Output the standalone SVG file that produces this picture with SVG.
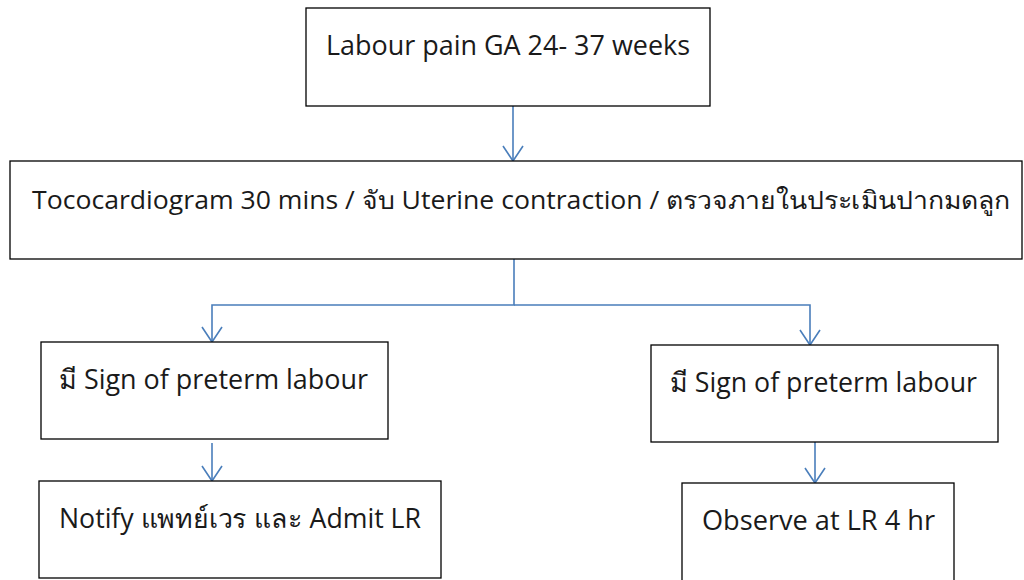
<svg xmlns="http://www.w3.org/2000/svg" width="1024" height="580" viewBox="0 0 1024 580">
<defs>
<style>
.box{fill:#ffffff;stroke:#000000;stroke-width:1.3}
.lbl{font-family:"Open Sans","Noto Sans","DejaVu Sans",sans-serif;font-size:27px;fill:#1a1a1a}
.wide{font-size:25px}
.conn{fill:none;stroke:#4a7ebb;stroke-width:1.6}
</style>
<marker id="arr" viewBox="0 0 20 22" refX="18" refY="11" markerWidth="20" markerHeight="22" markerUnits="userSpaceOnUse" orient="auto">
<path d="M3,1 L18,11 L3,21" fill="none" stroke="#4a7ebb" stroke-width="1.6"/>
</marker>
</defs>
<rect width="1024" height="580" fill="#ffffff"/>
<g id="connectors">
<path class="conn" d="M513,106 V161" marker-end="url(#arr)"/>
<path class="conn" d="M514,259 V305 H212 V342" marker-end="url(#arr)"/>
<path class="conn" d="M514,305 H810 V345" marker-end="url(#arr)"/>
<path class="conn" d="M212,443 V481" marker-end="url(#arr)"/>
<path class="conn" d="M815,442 V483" marker-end="url(#arr)"/>
</g>
<g id="n1">
<rect class="box" x="306" y="8" width="404" height="98"/>
<text class="lbl" x="326" y="55" textLength="364" lengthAdjust="spacingAndGlyphs">Labour pain GA 24- 37 weeks</text>
</g>
<g id="n2">
<rect class="box" x="10" y="161" width="1012" height="98"/>
<text class="lbl wide" x="32" y="209" textLength="978" lengthAdjust="spacingAndGlyphs">Tococardiogram 30 mins / จับ Uterine contraction / ตรวจภายในประเมินปากมดลูก</text>
</g>
<g id="n3">
<rect class="box" x="41" y="342" width="347" height="97"/>
<text class="lbl" x="59" y="389" textLength="309" lengthAdjust="spacingAndGlyphs">มี Sign of preterm labour</text>
</g>
<g id="n4">
<rect class="box" x="651" y="345" width="347" height="97"/>
<text class="lbl" x="670" y="392" textLength="307" lengthAdjust="spacingAndGlyphs">มี Sign of preterm labour</text>
</g>
<g id="n5">
<rect class="box" x="39" y="481" width="402" height="97"/>
<text class="lbl" x="59" y="528" textLength="362" lengthAdjust="spacingAndGlyphs">Notify แพทย์เวร และ Admit LR</text>
</g>
<g id="n6">
<rect class="box" x="682" y="483" width="272" height="100"/>
<text class="lbl" x="702" y="530" textLength="233" lengthAdjust="spacingAndGlyphs">Observe at LR 4 hr</text>
</g>
</svg>
